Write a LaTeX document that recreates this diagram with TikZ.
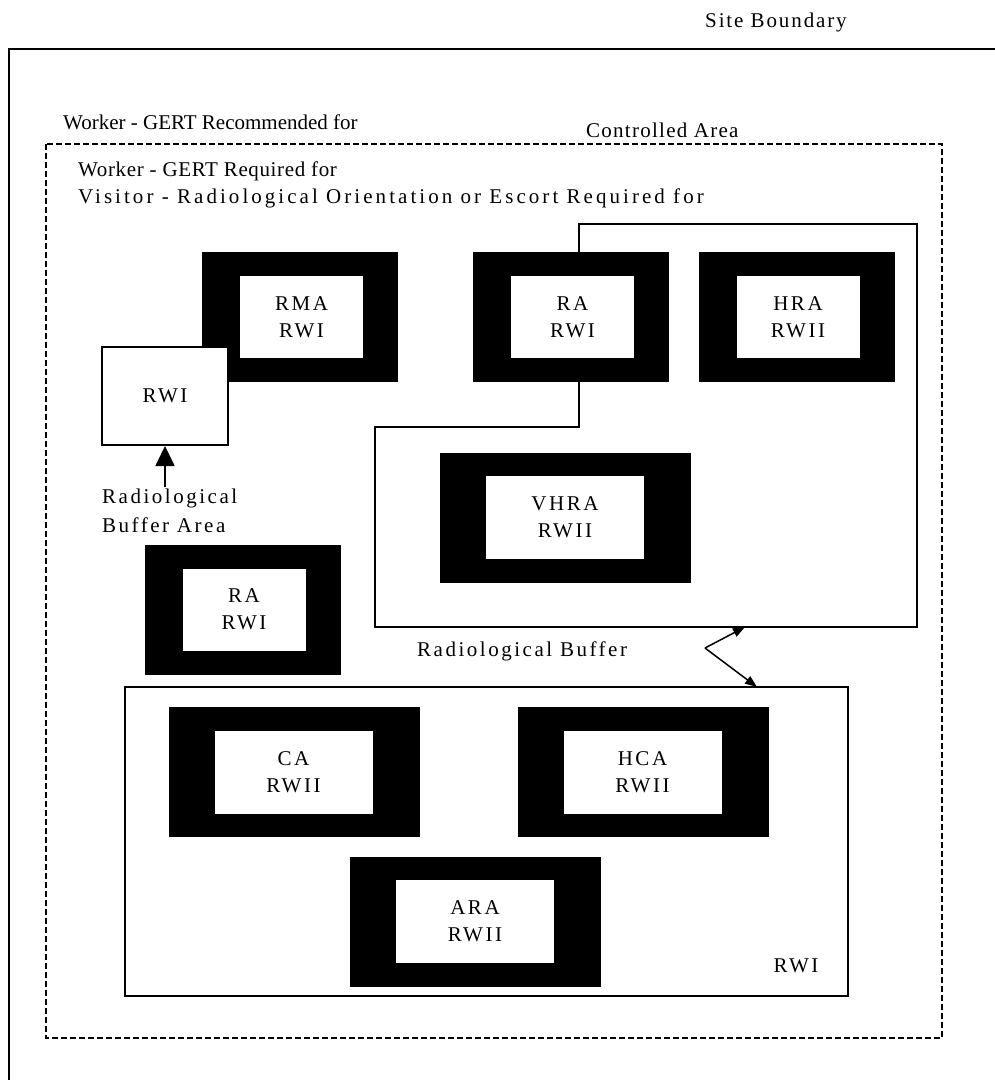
\documentclass[tikz,border=0pt]{standalone}
\usepackage{fontspec}
\setmainfont{Liberation Serif}[LetterSpace=12]
\newfontfamily\lsRec{Liberation Serif}[LetterSpace=0]
\newfontfamily\lsReq{Liberation Serif}[LetterSpace=3]
\newfontfamily\lsVis{Liberation Serif}[LetterSpace=14.5]
\newfontfamily\lsCtl{Liberation Serif}[LetterSpace=6]
\newfontfamily\lsSite{Liberation Serif}[LetterSpace=9]
\usetikzlibrary{arrows.meta}
\begin{document}
\begin{tikzpicture}[x=1pt,y=-1pt,
  txt/.style={font=\fontsize{21}{27}\selectfont, inner sep=0pt},
  frameS/.style={fill=black, inner sep=0pt, minimum width=196pt, minimum height=130pt},
  frameL/.style={fill=black, inner sep=0pt, minimum width=251pt, minimum height=130pt},
  zoneS/.style={fill=white, inner sep=0pt, align=center, font=\fontsize{21}{27}\selectfont, minimum width=123pt, minimum height=82pt},
  zoneL/.style={fill=white, inner sep=0pt, align=center, font=\fontsize{21}{27}\selectfont, minimum width=158pt, minimum height=83pt},
  siteline/.style={line width=2.5pt},
  ctrl/.style={line width=1.6pt, dash pattern=on 6pt off 3pt},
  wall/.style={line width=2pt},
  bigarrow/.style={line width=1.8pt, -{Triangle[length=20pt,width=19pt]}},
  smallarrow/.style={line width=1.5pt, -{Triangle[length=12pt,width=9pt]}}]
\useasboundingbox (0,0) rectangle (995,1080);
\fill[white] (0,0) rectangle (995,1080);

% site boundary
\draw[siteline] (995,49) -- (9,49) -- (9,1080);
\node[txt, anchor=base west] (sb) at (705,27) {\lsSite Site Boundary};

% controlled area
\draw[ctrl] (46,144) rectangle (942,1038);
\node[txt, anchor=base west] (gertrec) at (63,129) {\lsRec Worker - GERT Recommended for};
\node[txt, anchor=base west] (ca) at (586,137) {\lsCtl Controlled Area};
\node[txt, anchor=base west] (gertreq) at (78,176) {\lsReq Worker - GERT Required for};
\node[txt, anchor=base west] (visitor) at (78,203) {\lsVis Visitor - Radiological Orientation or Escort Required for};

% radiological buffer polygon
\coordinate (p1) at (579,224);
\coordinate (p2) at (917,224);
\coordinate (p3) at (917,627);
\coordinate (p4) at (375,627);
\coordinate (p5) at (375,427);
\coordinate (p6) at (579,427);
\draw[wall] (p1) -- (p2) -- (p3) -- (p4) -- (p5) -- (p6) -- cycle;

% upper row
\node[frameS] (rmaF) at (299.5,316.5) {};
\node[zoneS] (rma) at (301.5,317) {RMA\\RWI};
\node[frameS] (raTF) at (571,317) {};
\node[zoneS] (raT) at (572.5,317) {RA\\RWI};
\node[frameS] (hraF) at (796.5,317) {};
\node[zoneS] (hra) at (798,317) {HRA\\RWII};

% RWI buffer box
\node[draw, wall, fill=white, minimum width=126pt, minimum height=98pt, inner sep=0pt,
      font=\fontsize{21}{27}\selectfont] (rwi) at (165,396) {RWI};
\coordinate (rbaTail) at (165,487);
\draw[bigarrow] (rbaTail) -- (rwi.south);
\node[txt, anchor=base west] (rba1) at (102,503) {Radiological};
\node[txt, anchor=base west] (rba2) at (102,532) {Buffer Area};

% VHRA
\node[frameL] (vhraF) at (565.5,517.5) {};
\node[zoneL] (vhra) at (565,517.5) {VHRA\\RWII};

% RA left
\node[frameS] (raLF) at (242.5,609.5) {};
\node[zoneS] (raL) at (244,609.5) {RA\\RWI};

% radiological buffer label and arrows
\node[txt, anchor=base west] (rb) at (417,656) {Radiological Buffer};
\coordinate (v) at (705,648);
\coordinate (bufTip) at (745,627);
\coordinate (lowTip) at (757,687);
\draw[smallarrow] (v) -- (bufTip);
\draw[smallarrow] (v) -- (lowTip);

% lower RWI area
\node[draw, wall, minimum width=723pt, minimum height=309pt, inner sep=0pt] (lower) at (486.5,841.5) {};
\node[frameL] (caF) at (294.5,772) {};
\node[zoneL] (caz) at (293.5,772.5) {CA\\RWII};
\node[frameL] (hcaF) at (643.5,772) {};
\node[zoneL] (hca) at (642.5,772.5) {HCA\\RWII};
\node[frameL] (araF) at (475.5,921.5) {};
\node[zoneL] (ara) at (475,921) {ARA\\RWII};
\node[txt, anchor=base] (lowrwi) at (796,972) {RWI};
\end{tikzpicture}
\end{document}
